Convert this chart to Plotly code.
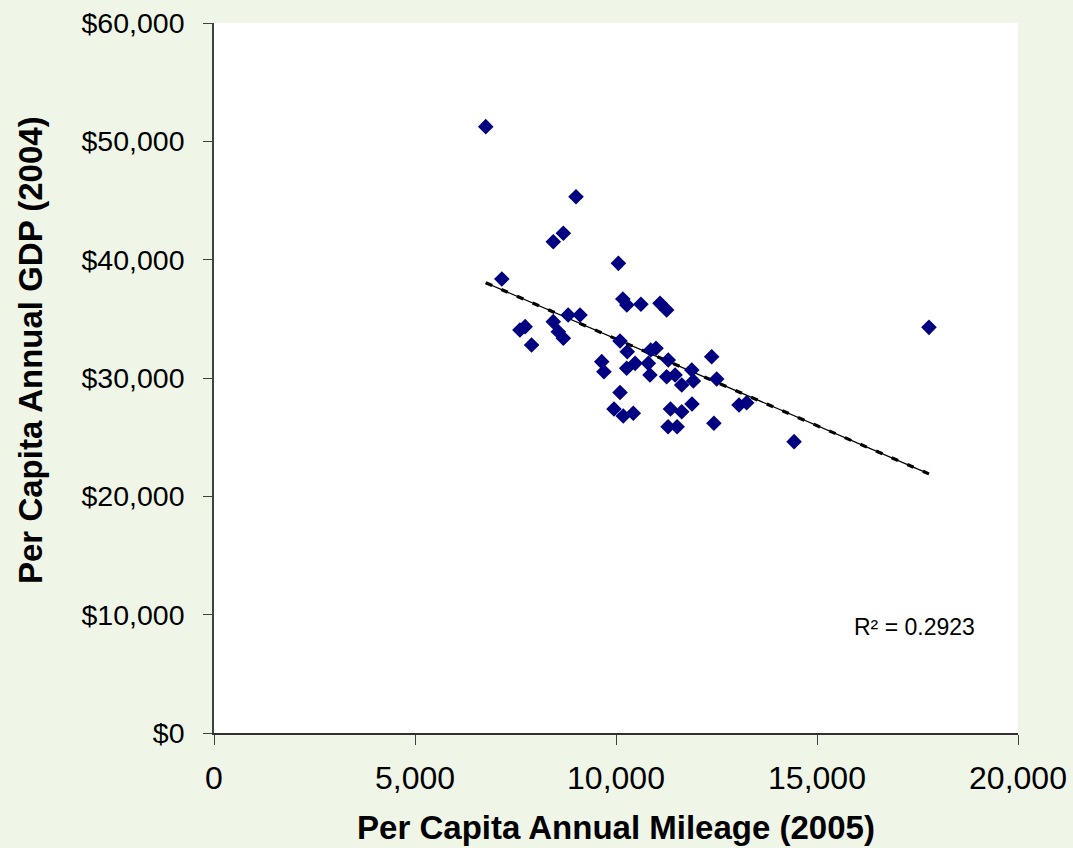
import numpy as np
import plotly.graph_objects as go

# Per capita annual mileage (2005) and per capita GDP (2004), one point per state
mileage = [6760, 9005, 8440, 8690, 10060, 7160, 7610, 7740, 7900, 8440,
           8565, 8690, 8810, 9105, 10170, 10270, 10620, 11095, 11260, 10100,
           10280, 10865, 10995, 9645, 9700, 10265, 10475, 10805, 10845, 11300,
           11260, 11470, 11635, 11885, 11925, 12380, 12505, 10100, 9950, 10180,
           10430, 11355, 11635, 11890, 11295, 11520, 12435, 13060, 13250, 14430,
           17785]
gdp = [51240, 45320, 41520, 42230, 39690, 38370, 34060, 34340, 32790, 34760,
       33910, 33360, 35320, 35320, 36680, 36170, 36230, 36310, 35750, 33130,
       32220, 32370, 32510, 31380, 30530, 30820, 31240, 31240, 30250, 31520,
       30110, 30250, 29410, 30680, 29750, 31800, 29920, 28780, 27380, 26790,
       27020, 27380, 27150, 27800, 25880, 25880, 26170, 27720, 27910, 24620,
       34280]
r2_label = "R² = 0.2923"
x_title = "Per Capita Annual Mileage (2005)"
y_title = "Per Capita Annual GDP (2004)"
x_ticks = [0, 5000, 10000, 15000, 20000]
y_ticks = [0, 10000, 20000, 30000, 40000, 50000, 60000]
x_ticktext = [f"{v:,}" for v in x_ticks]
y_ticktext = [f"${v:,}" for v in y_ticks]

x = np.array(mileage, dtype=float)
y = np.array(gdp, dtype=float)
slope, intercept = np.polyfit(x, y, 1)
tx = np.array([x.min(), x.max()])
ty = slope * tx + intercept

fig = go.Figure()
fig.add_trace(go.Scatter(x=tx, y=ty, mode="lines",
                         line=dict(color="black", width=1.3), hoverinfo="skip", showlegend=False))
fig.add_trace(go.Scatter(x=tx, y=ty, mode="lines",
                         line=dict(color="black", width=3.2, dash="7px,10px"), hoverinfo="skip", showlegend=False))
fig.add_trace(go.Scatter(x=mileage, y=gdp, mode="markers",
                         marker=dict(symbol="diamond", size=12, color="#000080",
                                     line=dict(width=0)),
                         showlegend=False))

fig.add_annotation(x=17413, y=8960, text=r2_label, showarrow=False,
                   font=dict(family="Liberation Sans, Arial", size=23, color="black"))

# Y-axis title (placed slightly above the plot centre, as in the original)
fig.add_annotation(xref="paper", yref="paper", x=-0.2289, y=0.5394,
                   xanchor="center", yanchor="middle", textangle=-90,
                   text=f"<b>{y_title}</b>", showarrow=False,
                   font=dict(family="Liberation Sans, Arial", size=33, color="black"))

fig.update_layout(
    width=1073, height=848,
    paper_bgcolor="#eff5e7", plot_bgcolor="white",
    margin=dict(l=214, r=55, t=23, b=115, autoexpand=False),
    font=dict(family="Liberation Sans, Arial", color="black"),
    xaxis=dict(range=[0, 20000], tickmode="array", tickvals=x_ticks, ticktext=x_ticktext,
               automargin=False,
               showgrid=False, zeroline=False, showline=True, linecolor="#303030", linewidth=1.5,
               ticks="outside", ticklen=10, tickcolor="#404040", tickwidth=1.2,
               ticklabelstandoff=6,
               tickfont=dict(size=32),
               title=dict(text=f"<b>{x_title}</b>", font=dict(size=33), standoff=21)),
    yaxis=dict(range=[0, 60000], tickmode="array", tickvals=y_ticks, ticktext=y_ticktext,
               automargin=False,
               showgrid=False, zeroline=False, showline=True, linecolor="#404040", linewidth=1.5,
               ticks="outside", ticklen=9, tickcolor="#404040", tickwidth=1.2,
               ticklabelstandoff=13,
               tickfont=dict(size=28.5)),
)

fig.write_html("out.html", config={"displayModeBar": False},
               post_script="document.body.style.margin='0';document.body.style.padding='0';")
